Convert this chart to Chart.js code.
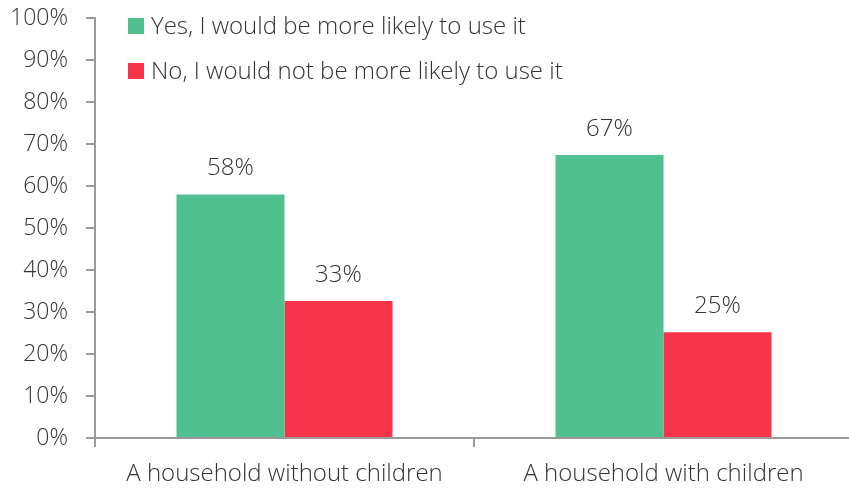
<!DOCTYPE html>
<html>
<head>
<meta charset="utf-8">
<script src="https://cdn.jsdelivr.net/npm/chart.js@4.4.1/dist/chart.umd.min.js"></script>
<style>
  html, body { margin: 0; padding: 0; background: #fff; overflow: hidden; }
  #wrap { width: 849px; height: 488px; overflow: hidden; }
</style>
</head>
<body>
<div id="wrap"><canvas id="barChart" width="853" height="488"></canvas></div>
<script>
// ------------------------------------------------------------
// Data
// ------------------------------------------------------------
const categories = ["A household without children", "A household with children"];
const seriesNames = ["Yes, I would be more likely to use it", "No, I would not be more likely to use it"];
const yesValues = [58, 67.4];
const noValues = [32.6, 25.2];
const yesLabels = ["58%", "67%"];
const noLabels = ["33%", "25%"];
const seriesColors = ["#50C08F", "#F8344C"];

const textColor = "#333333";
const axisColor = "#9a9a9a";
const fontFamily = "'Open Sans', Lato, sans-serif";

Chart.defaults.font.family = fontFamily;
Chart.defaults.font.weight = "300";
Chart.defaults.color = textColor;

// ------------------------------------------------------------
// Value labels above bars + legend inside plot
// ------------------------------------------------------------
const barLabels = {
  id: "barLabels",
  afterDatasetsDraw(chart) {
    const ctx = chart.ctx;
    const texts = [yesLabels, noLabels];
    ctx.save();
    ctx.font = "300 24px " + fontFamily;
    ctx.fillStyle = textColor;
    ctx.textAlign = "center";
    ctx.textBaseline = "alphabetic";
    chart.data.datasets.forEach((ds, i) => {
      chart.getDatasetMeta(i).data.forEach((bar, j) => {
        ctx.fillText(texts[i][j], bar.x, bar.y - 19);
      });
    });
    ctx.restore();
  },
};

const innerLegend = {
  id: "innerLegend",
  afterDraw(chart) {
    const ctx = chart.ctx;
    const x0 = chart.chartArea.left + 33;
    const y0 = chart.chartArea.top + 8;
    ctx.save();
    ctx.font = "300 24px " + fontFamily;
    ctx.textBaseline = "middle";
    chart.data.datasets.forEach((ds, i) => {
      const y = y0 + i * 45;
      ctx.fillStyle = ds.backgroundColor;
      ctx.fillRect(x0, y - 8, 16, 16);
      ctx.fillStyle = textColor;
      ctx.fillText(ds.label, x0 + 23, y + 1);
    });
    ctx.restore();
  },
};

// ------------------------------------------------------------
// Chart
// ------------------------------------------------------------
const ctx = document.getElementById("barChart").getContext("2d");
new Chart(ctx, {
  type: "bar",
  data: {
    labels: categories,
    datasets: [
      { label: seriesNames[0], data: yesValues, backgroundColor: seriesColors[0] },
      { label: seriesNames[1], data: noValues, backgroundColor: seriesColors[1] },
    ],
  },
  options: {
    responsive: false,
    animation: false,
    layout: { padding: { top: 18, right: 0, left: 0, bottom: 0 } },
    datasets: { bar: { categoryPercentage: 0.57, barPercentage: 1.0 } },
    plugins: { legend: { display: false }, tooltip: { enabled: false } },
    scales: {
      x: {
        afterFit(scale) {
          scale.height = 50;
          scale.paddingLeft = 0;
          scale.paddingRight = 0;
        },
        grid: { offset: true, drawOnChartArea: false, tickLength: 9, color: axisColor, lineWidth: 2 },
        border: { color: axisColor, width: 2 },
        ticks: { font: { size: 24 }, padding: 13, color: textColor },
      },
      y: {
        min: 0,
        max: 100,
        afterFit(scale) {
          scale.width = 95;
          scale.paddingTop = 0;
          scale.paddingBottom = 0;
        },
        grid: { drawOnChartArea: false, tickLength: 9, color: axisColor, lineWidth: 2 },
        border: { color: axisColor, width: 2 },
        ticks: {
          stepSize: 10,
          font: { size: 23 },
          padding: 18,
          color: textColor,
          callback: (v) => v + "%",
        },
      },
    },
  },
  plugins: [barLabels, innerLegend],
});
</script>
</body>
</html>
